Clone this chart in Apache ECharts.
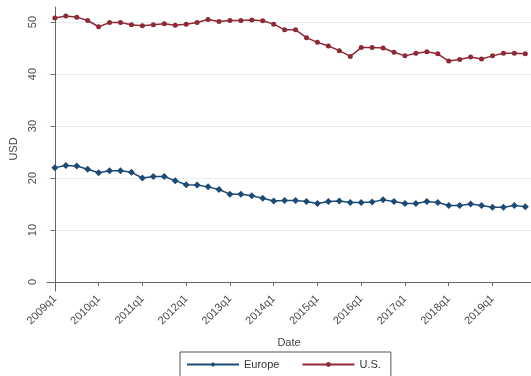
<!DOCTYPE html>
<html>
<head>
<meta charset="utf-8">
<script src="https://cdn.jsdelivr.net/npm/echarts@6/dist/echarts.min.js"></script>
<style>
  html, body { margin: 0; padding: 0; background: #fff; }
  #chart { width: 531px; height: 376px; }
</style>
</head>
<body>
<div id="chart"></div>
<script>
// Quarterly series, 2009q1 .. 2019q4
const firstYear = 2009;
const lastYear = 2019;
const tickYears = [2009, 2010, 2011, 2012, 2013, 2014, 2015, 2016, 2017, 2018, 2019];
const yTicks = [0, 10, 20, 30, 40, 50];

const europe = [
    22.0, 22.4, 22.3, 21.7, 21.0, 21.4, 21.4, 21.1, 20.0, 20.3, 20.3,
    19.5, 18.7, 18.65, 18.3, 17.8, 16.9, 16.9, 16.6, 16.1, 15.6, 15.7,
    15.7, 15.5, 15.1, 15.5, 15.6, 15.3, 15.3, 15.4, 15.8, 15.5, 15.1,
    15.1, 15.5, 15.3, 14.7, 14.7, 15.0, 14.7, 14.4, 14.4, 14.7, 14.5
];
const us = [
    50.8, 51.15, 50.95, 50.3, 49.1, 49.9, 49.9, 49.5, 49.3, 49.5, 49.7,
    49.4, 49.6, 49.9, 50.5, 50.1, 50.3, 50.3, 50.4, 50.25, 49.6, 48.5,
    48.5, 47.0, 46.1, 45.4, 44.5, 43.4, 45.1, 45.1, 45.0, 44.2, 43.5,
    44.0, 44.3, 43.9, 42.5, 42.8, 43.3, 42.9, 43.5, 44.0, 44.0, 43.9
];

const quarters = [];
for (let y = firstYear; y <= lastYear; y++) {
    for (let q = 1; q <= 4; q++) quarters.push(y + 'q' + q);
}
const xTicks = tickYears.map(y => quarters.indexOf(y + 'q1'));

const toPairs = arr => arr.map((v, i) => [i, v]);

const labelFont = { color: '#4a4a4a', fontSize: 11, fontFamily: 'Liberation Sans, Arial, sans-serif' };

const chart = echarts.init(document.getElementById('chart'));
chart.setOption({
    animation: false,
    textStyle: { fontFamily: 'Liberation Sans, Arial, sans-serif' },
    grid: { left: 41, right: 0, top: 7, bottom: 85, containLabel: false },
    xAxis: {
        type: 'value',
        min: -0.72,
        max: 43.52,
        name: 'Date',
        nameLocation: 'middle',
        nameGap: 46,
        nameTextStyle: { color: '#444', fontSize: 11 },
        axisLine: { lineStyle: { color: '#666', width: 1 } },
        axisTick: { show: true, length: 4, customValues: xTicks, lineStyle: { color: '#666' } },
        axisLabel: Object.assign({
            customValues: xTicks,
            rotate: 45,
            margin: 6,
            formatter: v => quarters[Math.round(v)]
        }, labelFont),
        splitLine: { show: false }
    },
    yAxis: {
        type: 'value',
        min: -1.73,
        max: 52.9,
        name: 'USD',
        nameLocation: 'middle',
        nameGap: 28,
        nameTextStyle: { color: '#444', fontSize: 11 },
        axisLine: { show: true, lineStyle: { color: '#666', width: 1 } },
        axisTick: { show: true, length: 4, customValues: yTicks, lineStyle: { color: '#666' } },
        axisLabel: Object.assign({ customValues: yTicks, rotate: 90, margin: 9 }, labelFont),
        splitLine: { show: true, lineStyle: { color: '#e6eded', width: 1 } }
    },
    legend: {
        bottom: -8,
        left: 180,
        width: 215,
        padding: [7, 10, 14, 6],
        borderColor: '#555',
        borderWidth: 1,
        itemWidth: 52,
        itemHeight: 6,
        itemGap: 22,
        textStyle: { color: '#333', fontSize: 11 },
        data: ['Europe', 'U.S.']
    },
    series: [
        {
            name: 'Europe',
            type: 'line',
            data: toPairs(europe),
            symbol: 'diamond',
            symbolSize: 7,
            itemStyle: { color: '#1c4a75' },
            lineStyle: { color: '#1c4a75', width: 1.5 }
        },
        {
            name: 'U.S.',
            type: 'line',
            data: toPairs(us),
            symbol: 'circle',
            symbolSize: 5,
            itemStyle: { color: '#8e2a35' },
            lineStyle: { color: '#8e2a35', width: 1.5 }
        }
    ]
});
</script>
</body>
</html>
